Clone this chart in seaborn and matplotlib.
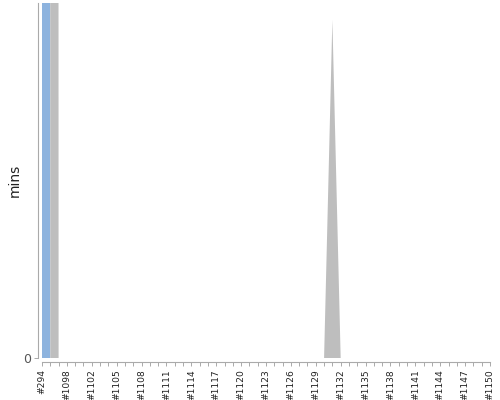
import matplotlib
matplotlib.use("Agg")
import matplotlib.pyplot as plt
import seaborn as sns
import numpy as np

# ---- data ----
builds = ["#294", "#1096", "#1097", "#1098", "#1099", "#1101"] + ["#%d" % n for n in range(1102, 1151)]
# build time (mins) - blue series, huge first build
build_mins = [2500] + [0] * (len(builds) - 1)
# waiting / other time (mins) - gray series
other_mins = [0, 2400] + [0] * 33 + [20] + [0] * (len(builds) - 36)
label_every = 3
y_label = "mins"
y_top = 21

sns.set_theme(style="white")
plt.rcParams['font.family'] = ['DejaVu Sans']

fig = plt.figure(figsize=(5, 4), dpi=100)
ax = fig.add_axes([0.084, 0.105, 0.896, 0.888])

sns.despine(ax=ax)
for side in ["left", "bottom"]:
    ax.spines[side].set_position(("outward", 2.9))
    ax.spines[side].set_color("#AAAAAA")
    ax.spines[side].set_linewidth(0.8)

x = np.arange(len(builds))
ax.stackplot(x, build_mins, other_mins, colors=["#8DB3DE", "#BEBEBE"], linewidth=0)

ax.set_xlim(0, len(builds) - 1)
ax.set_ylim(0, y_top)
ax.set_yticks([0])
ax.set_yticklabels(["0"], fontsize=9, color="#555555")
ax.set_xticks(x)
ax.set_xticklabels([b if i % label_every == 0 else "" for i, b in enumerate(builds)],
                   rotation=90, fontsize=6.6, color="#222222")
ax.set_ylabel(y_label, fontsize=10, color="#222222")
ax.yaxis.set_label_coords(-0.045, 0.5)

ax.tick_params(axis="both", which="both", length=3, width=0.7, color="#AAAAAA",
               bottom=True, left=True, pad=2)

fig.savefig("out.png", dpi=100)
